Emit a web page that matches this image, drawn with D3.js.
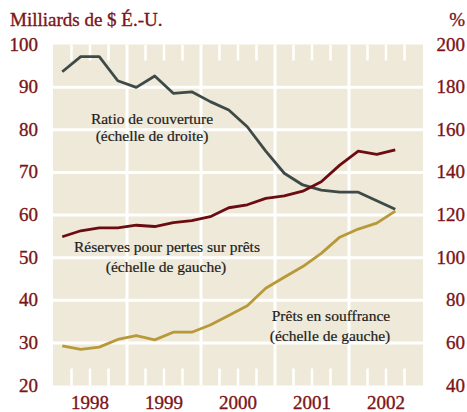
<!DOCTYPE html>
<html lang="fr">
  <head>
    <meta charset="utf-8">
    <title>Prêts en souffrance et réserves</title>
    <script src="https://d3js.org/d3.v7.min.js"></script>
    <style>
      body { margin: 0; background: #fff; }
      svg text { font-family: 'Liberation Serif', 'Times New Roman', serif; }
      .tick-label { fill: #7a1519; font-size: 19px; stroke: #7a1519; stroke-width: 0.35px; }
      .note { fill: #1c1c1c; font-size: 15.5px; text-anchor: middle; stroke: #1c1c1c; stroke-width: 0.2px; }
    </style>
  </head>
  <body>
    <div id="chart"></div>
    <script>
      // trimestres de 1998 T1 a 2002 T3
      var trimestres = ["1998 T1","1998 T2","1998 T3","1998 T4",
                        "1999 T1","1999 T2","1999 T3","1999 T4",
                        "2000 T1","2000 T2","2000 T3","2000 T4",
                        "2001 T1","2001 T2","2001 T3","2001 T4",
                        "2002 T1","2002 T2","2002 T3"];

      // ratio de couverture, en % (echelle de droite)
      var ratioCouverture = [187.2, 194.3, 194.3, 183.0, 179.9, 185.2, 177.1, 177.8, 173.2, 169.3,
                             161.4, 150.0, 139.6, 134.1, 131.7, 130.7, 130.7, 126.7, 122.7];
      // reserves pour pertes sur prets, milliards $ (echelle de gauche)
      var reserves = [54.9, 56.3, 57.0, 57.0, 57.6, 57.3, 58.2, 58.7, 59.6, 61.7,
                      62.4, 63.9, 64.5, 65.6, 67.8, 71.7, 75.0, 74.2, 75.3];
      // prets en souffrance, milliards $ (echelle de gauche)
      var souffrance = [29.3, 28.5, 29.0, 30.8, 31.7, 30.7, 32.5, 32.5, 34.2, 36.4,
                        38.7, 42.8, 45.4, 47.9, 51.0, 54.8, 56.7, 58.1, 60.9];

      var annees = [1998, 1999, 2000, 2001, 2002];
      var ticksGauche = [20, 30, 40, 50, 60, 70, 80, 90, 100];
      var ticksDroite = [40, 60, 80, 100, 120, 140, 160, 180, 200];

      var largura = 467, altura = 412;
      var plot = {left: 53, right: 423, top: 44.5, bottom: 385.5};

      var svg = d3.select("#chart").append("svg")
                  .attr("width", largura)
                  .attr("height", altura);

      var x = d3.scaleLinear().domain([1998, 2003]).range([plot.left, plot.right]);
      var yG = d3.scaleLinear().domain([20, 100]).range([plot.bottom, plot.top]);
      var yD = d3.scaleLinear().domain([40, 200]).range([plot.bottom, plot.top]);

      // position du milieu de chaque trimestre
      function posTrim(t) {
        var p = t.split(" T");
        return +p[0] + (+p[1] - 0.5) / 4;
      }

      // fond
      svg.append("rect")
        .attr("x", plot.left).attr("y", plot.top)
        .attr("width", plot.right - plot.left)
        .attr("height", plot.bottom - plot.top)
        .attr("fill", "#eee9d8");

      // grille horizontale
      svg.selectAll("line.hgrid")
        .data(ticksGauche.filter(d => d > 20 && d < 100))
        .enter().append("line")
          .attr("class", "hgrid")
          .attr("x1", plot.left).attr("x2", plot.right)
          .attr("y1", d => yG(d)).attr("y2", d => yG(d))
          .attr("stroke", "#fff").attr("stroke-width", 3);

      // lignes des annees
      svg.selectAll("line.vgrid")
        .data(annees.slice(1))
        .enter().append("line")
          .attr("class", "vgrid")
          .attr("x1", d => x(d)).attr("x2", d => x(d))
          .attr("y1", plot.top).attr("y2", plot.bottom)
          .attr("stroke", "#fff").attr("stroke-width", 3);

      // petites marques trimestrielles en haut et en bas
      var quarts = d3.range(1998, 2003, 0.25).filter(d => d % 1 !== 0);
      [[plot.top, plot.top + 16], [plot.bottom - 17, plot.bottom]].forEach(function(yy) {
        svg.append("g").selectAll("line")
          .data(quarts)
          .enter().append("line")
            .attr("x1", d => x(d)).attr("x2", d => x(d))
            .attr("y1", yy[0]).attr("y2", yy[1])
            .attr("stroke", "#fff").attr("stroke-width", 2.5);
      });

      // series
      var series = [
        {valeurs: ratioCouverture, y: yD, cor: "#3d4a47"},
        {valeurs: reserves, y: yG, cor: "#6b0c12"},
        {valeurs: souffrance, y: yG, cor: "#b8993a"}
      ];

      series.forEach(function(s) {
        var linha = d3.line()
          .x((d, i) => x(posTrim(trimestres[i])))
          .y(d => s.y(d));
        svg.append("path")
          .datum(s.valeurs)
          .attr("d", linha)
          .attr("fill", "none")
          .attr("stroke", s.cor)
          .attr("stroke-width", 2.8)
          .attr("stroke-linejoin", "round");
      });

      // axes gauche et droite
      svg.selectAll("text.gauche")
        .data(ticksGauche)
        .enter().append("text")
          .attr("class", "tick-label gauche")
          .attr("x", 38).attr("y", d => yG(d) + 6)
          .attr("text-anchor", "end")
          .text(d => d);

      svg.selectAll("text.droite")
        .data(ticksDroite)
        .enter().append("text")
          .attr("class", "tick-label droite")
          .attr("x", 465).attr("y", d => yD(d) + 6)
          .attr("text-anchor", "end")
          .text(d => d);

      // annees
      svg.selectAll("text.annee")
        .data(annees)
        .enter().append("text")
          .attr("class", "tick-label annee")
          .attr("x", d => x(d + 0.5)).attr("y", 409)
          .attr("text-anchor", "middle")
          .text(d => d);

      // titres des axes
      svg.append("text").attr("class", "tick-label")
        .attr("x", 10).attr("y", 26)
        .text("Milliards de $ É.-U.");
      svg.append("text").attr("class", "tick-label")
        .attr("x", 465).attr("y", 26).attr("text-anchor", "end")
        .text("%");

      // annotations
      var notes = [
        {x: 152, y: 124, t: "Ratio de couverture"},
        {x: 152, y: 141, t: "(échelle de droite)"},
        {x: 167, y: 252, t: "Réserves pour pertes sur prêts"},
        {x: 166, y: 272, t: "(échelle de gauche)"},
        {x: 331, y: 321, t: "Prêts en souffrance"},
        {x: 330, y: 341, t: "(échelle de gauche)"}
      ];
      svg.selectAll("text.note")
        .data(notes)
        .enter().append("text")
          .attr("class", "note")
          .attr("x", d => d.x).attr("y", d => d.y)
          .text(d => d.t);
    </script>
  </body>
</html>
